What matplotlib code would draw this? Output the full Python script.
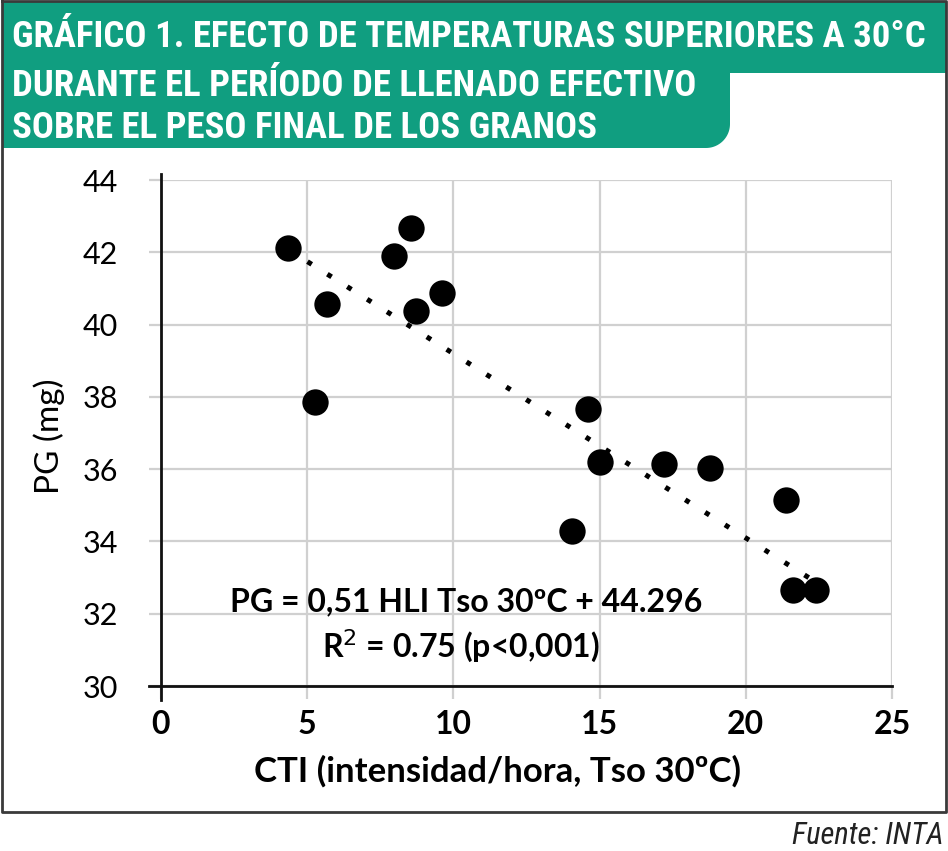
import matplotlib
matplotlib.use("Agg")
import matplotlib.pyplot as plt
import numpy as np
from matplotlib import font_manager
from matplotlib.patches import Polygon

# valores
cti = [4.33, 8.56, 7.98, 5.69, 9.61, 8.72, 5.25, 14.60, 15.03, 17.20, 18.78, 14.05, 21.37, 21.61, 22.41]
pg = [42.13, 42.68, 41.90, 40.56, 40.87, 40.38, 37.87, 37.66, 36.19, 36.14, 36.03, 34.29, 35.15, 32.66, 32.66]
pendiente = -0.51
ordenada = 44.296

titulo = ["GRÁFICO 1. EFECTO DE TEMPERATURAS SUPERIORES A 30°C",
          "DURANTE EL PERÍODO DE LLENADO EFECTIVO",
          "SOBRE EL PESO FINAL DE LOS GRANOS"]
xticks = [0, 5, 10, 15, 20, 25]
yticks = [30, 32, 34, 36, 38, 40, 42, 44]
ecuacion = "PG = 0,51 HLI Tso 30ºC + 44.296"
r2 = "R$^2$ = 0.75 (p<0,001)"

VERDE = "#109e80"
FUENTE = "Lato"


def buscar_fuente(nombres):
    for n in nombres:
        try:
            font_manager.findfont(font_manager.FontProperties(family=n), fallback_to_default=False)
            return n
        except Exception:
            pass
    return FUENTE


angosta = buscar_fuente(["Roboto Condensed", "Liberation Sans Narrow", "Roboto"])

fig = plt.figure(figsize=(9.48, 8.51), dpi=100)

# fondo: banda del titulo y recuadro
bg = fig.add_axes([0, 0, 1, 1], zorder=-1)
bg.set_xlim(0, 948)
bg.set_ylim(851, 0)
bg.axis("off")

r = 24
ang = np.linspace(0, np.pi / 2, 20)
esq = [(730 - r + r * np.cos(a), 148 - r + r * np.sin(a)) for a in ang]
pts = [(2, 1), (946, 1), (946, 73), (730, 73)] + esq + [(2, 148)]
bg.add_patch(Polygon(pts, closed=True, facecolor=VERDE, edgecolor="none"))
bg.plot([2, 946, 946, 2, 2], [1, 1, 812, 812, 1], color="#3a3a3a", lw=2)

ys = [37, 86, 128]
for t, y in zip(titulo, ys):
    bg.text(12, y, t, color="white", fontsize=26.5, fontweight="bold", family=angosta,
            va="center", ha="left")

bg.text(944, 835, "Fuente: INTA", fontsize=22, style="italic", family=angosta,
        ha="right", va="center", color="#222222")

# grafico principal
ax = fig.add_axes([161 / 948, 1 - 686 / 851, 731 / 948, 506 / 851])
ax.set_xlim(0, 25)
ax.set_ylim(30, 44)
ax.set_xticks(xticks)
ax.set_yticks(yticks)
ax.grid(True, color="#d0d0d0", lw=1.6)
ax.set_axisbelow(True)
for s in ax.spines.values():
    s.set_visible(False)
ax.plot([0, 0], [-0.027, 1.012], transform=ax.transAxes, color="#111111", lw=2, clip_on=False)
ax.plot([-0.017, 1], [0, 0], transform=ax.transAxes, color="#111111", lw=2, clip_on=False)
ax.tick_params(axis="both", color="#d0d0d0", width=1.6, length=9, direction="out")
ax.tick_params(axis="y", pad=22)
ax.tick_params(axis="x", pad=8)
for lab in ax.get_yticklabels():
    lab.set_family(FUENTE)
    lab.set_fontsize(22)
for lab in ax.get_xticklabels():
    lab.set_family(FUENTE)
    lab.set_fontsize(23)
    lab.set_fontweight("bold")

ax.scatter(cti, pg, s=360, color="black", zorder=3, linewidths=0)

xt = np.array([min(cti), max(cti)])
ax.plot(xt, ordenada + pendiente * xt, color="black", lw=3.6, linestyle=(0, (1, 3.7)),
        dash_capstyle="butt", zorder=2)

ax.text(10.42, 32.32, ecuacion, fontsize=23, fontweight="bold", family=FUENTE,
        ha="center", va="center")
ax.text(10.25, 31.08, r2, fontsize=23, fontweight="bold", family=FUENTE,
        ha="center", va="center")

ax.set_xlabel("CTI (intensidad/hora, Tso 30ºC)", fontsize=25, fontweight="bold", family=FUENTE, va="center")
ax.xaxis.set_label_coords(0.46, -0.168)
ax.set_ylabel("PG (mg)", fontsize=24, family=FUENTE, va="center")
ax.yaxis.set_label_coords(-0.153, 0.494)

fig.savefig("out.png", dpi=100)
